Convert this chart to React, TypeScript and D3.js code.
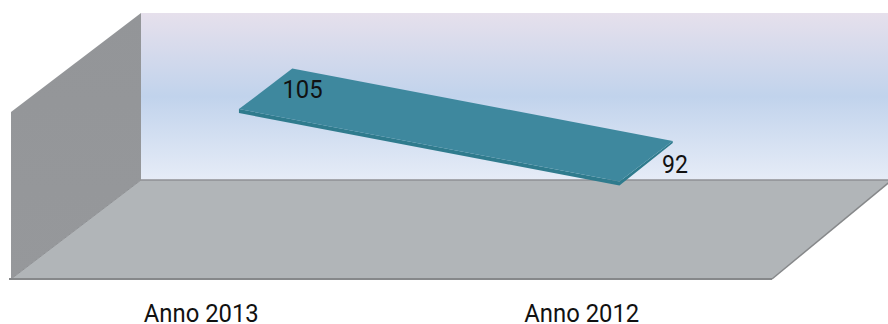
import React from "react";
import * as d3 from "d3";

const categories = ["Anno 2013", "Anno 2012"];
const values = [105, 92];
const valueDomain = [80, 110];

const W = 888;
const H = 324;
const frontLeft = 11;
const frontRight = 772;
const floorY = 279;
const topY = 112;
const depthX = 130;
const depthY = 99;
const ribbonNear = 0.29;
const ribbonFar = 0.7;
const ribbonDrop = 4;

const x = d3.scaleBand<string>().domain(categories).range([frontLeft, frontRight]);
const y = d3.scaleLinear().domain(valueDomain).range([floorY, topY]);
const poly = d3.line();

// Projects a point on the front plane back along the chart's depth axis.
const project = (px: number, py: number, depth: number): [number, number] => [
  px + depth * depthX,
  py - depth * depthY,
];

const centre = (c: string) => (x(c) as number) + x.bandwidth() / 2;

const FONT = "Roboto, sans-serif";

function Label({ cx, cy, text, size, squeeze }: { cx: number; cy: number; text: string; size: number; squeeze: number }) {
  return (
    <text
      transform={`translate(${cx},${cy}) scale(${squeeze},1)`}
      textAnchor="middle"
      fontFamily={FONT}
      fontSize={size}
      fill="#111"
    >
      {text}
    </text>
  );
}

export default function App() {
  const pts = categories.map((c, i) => ({ c, px: centre(c), py: y(values[i]) - 2 }));
  const [a, b] = pts;
  const surface: [number, number][] = [
    project(a.px, a.py, ribbonNear),
    project(a.px, a.py, ribbonFar),
    project(b.px, b.py, ribbonFar),
    project(b.px, b.py, ribbonNear),
  ];
  const edgeA = surface[0];
  const edgeB = surface[3];
  const edgeBack = surface[2];
  const front: [number, number][] = [
    edgeA,
    edgeB,
    edgeBack,
    [edgeBack[0], edgeBack[1] + 2],
    [edgeB[0], edgeB[1] + ribbonDrop],
    [edgeA[0], edgeA[1] + ribbonDrop],
  ];

  const wallTop = topY - depthY;
  const wallBase = floorY - depthY;
  const backLeft = frontLeft + depthX;

  return (
    <svg
      width={W}
      height={H}
      viewBox={`0 0 ${W} ${H}`}
      style={{ position: "absolute", left: 0, top: 0, display: "block" }}
    >
      <defs>
        <linearGradient id="backWall" x1="0" y1="0" x2="0" y2="1">
          <stop offset="0" stopColor="#e6e0ec" />
          <stop offset="0.5" stopColor="#c1d3ec" />
          <stop offset="1" stopColor="#e6ecf7" />
        </linearGradient>
        <linearGradient id="sideWall" x1="0" y1="0" x2="0" y2="1">
          <stop offset="0" stopColor="#939598" />
          <stop offset="1" stopColor="#96989b" />
        </linearGradient>
      </defs>

      <rect x={backLeft} y={wallTop} width={W - backLeft} height={wallBase - wallTop} fill="url(#backWall)" />
      <path
        d={poly([[frontLeft, topY], [backLeft, wallTop], [backLeft, wallBase], [frontLeft, floorY]]) as string}
        fill="url(#sideWall)"
      />
      <path
        d={poly([[backLeft, wallBase], [W + 4, wallBase], [frontRight, floorY], [frontLeft, floorY]]) as string}
        fill="#b1b5b8"
      />
      <path
        d={poly([[frontLeft, floorY], [backLeft, wallBase]]) as string}
        fill="none"
        stroke="#8f9194"
        strokeWidth={1}
      />
      <path
        d={poly([[backLeft, wallBase], [W, wallBase]]) as string}
        fill="none"
        stroke="#8f9194"
        strokeWidth={1.5}
      />
      <path
        d={poly([[frontLeft - 2, floorY], [frontRight, floorY]]) as string}
        fill="none"
        stroke="#86888a"
        strokeWidth={2}
      />
      <path
        d={poly([[frontRight, floorY], [W + 4, wallBase]]) as string}
        fill="none"
        stroke="#86888a"
        strokeWidth={1.5}
      />

      <path d={poly(front) as string} fill="#2f7b8d" strokeLinejoin="round" />
      <path d={poly(surface) as string} fill="#3e889e" />

      <Label cx={302.5} cy={98} text={String(values[0])} size={26.5} squeeze={0.9} />
      <Label cx={675} cy={173} text={String(values[1])} size={26.5} squeeze={0.87} />

      {categories.map((c) => (
        <Label key={c} cx={centre(c)} cy={322} text={c} size={26.5} squeeze={0.9} />
      ))}
    </svg>
  );
}
